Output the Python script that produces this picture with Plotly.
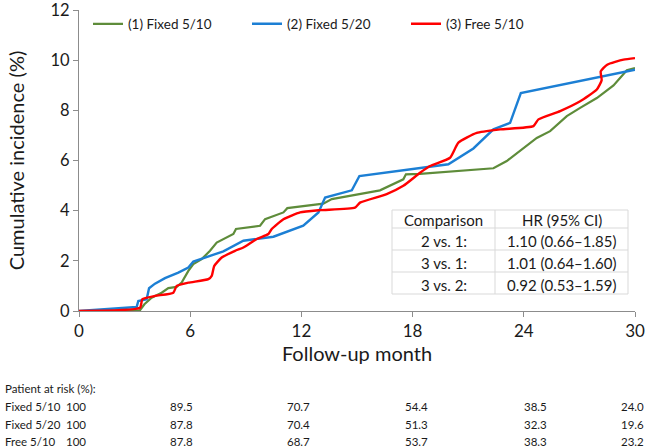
import plotly.graph_objects as go

# ---- data ----
fixed_510_month = [0, 3.29, 3.53, 3.92, 4.46, 4.82, 5.27, 5.54, 5.9, 6.17, 6.62, 7.07, 7.43, 7.88, 8.33, 8.47,
                   9.77, 10.04, 11.03, 11.24, 13.18, 13.64, 16.24, 17.5, 17.64, 18.4, 22.36, 23.08, 23.98,
                   24.7, 25.42, 26.32, 27.04, 27.94, 28.84, 29.56, 30.0]
fixed_510_inc = [0, 0.03, 0.27, 0.53, 0.73, 0.91, 0.96, 1.13, 1.6, 1.87, 2.07, 2.4, 2.73, 2.91, 3.07, 3.27,
                 3.4, 3.66, 3.93, 4.1, 4.28, 4.46, 4.81, 5.25, 5.45, 5.47, 5.69, 5.98, 6.51,
                 6.9, 7.17, 7.77, 8.1, 8.49, 8.99, 9.6, 9.69]

fixed_520_month = [0, 3.11, 3.2, 3.65, 3.78, 4.1, 4.64, 5.36, 5.9, 6.17, 6.8, 7.79, 8.87, 10.49, 12.1, 12.92,
                   13.28, 14.72, 15.13, 18.4, 19.93, 21.28, 22.36, 23.26, 23.84, 30.0]
fixed_520_inc = [0, 0.16, 0.4, 0.47, 0.91, 1.09, 1.31, 1.53, 1.73, 1.97, 2.13, 2.38, 2.8, 2.96, 3.4, 3.93,
                 4.52, 4.81, 5.38, 5.71, 5.85, 6.48, 7.24, 7.5, 8.69, 9.62]

free_510_month = [0, 3.29, 3.42, 4.1, 5.09, 5.27, 5.9, 6.98, 7.16, 7.3, 7.7, 8.42, 8.87, 9.59, 10.22, 10.4,
                  11.03, 11.93, 13.0, 14.89, 15.16, 16.6, 17.5, 18.4, 18.94, 20.02, 20.47, 21.46, 22.72,
                  24.52, 24.79, 25.96, 27.04, 27.94, 28.2, 28.15, 28.5, 29.38, 30.0]
free_510_inc = [0, 0.13, 0.47, 0.6, 0.73, 1.0, 1.13, 1.27, 1.4, 1.8, 2.13, 2.4, 2.53, 2.87, 3.07, 3.27,
                3.66, 3.93, 4.02, 4.12, 4.32, 4.66, 4.99, 5.51, 5.78, 6.11, 6.71, 7.1, 7.24,
                7.37, 7.64, 7.97, 8.36, 8.83, 9.2, 9.55, 9.82, 10.02, 10.08]

series_names = ["(1) Fixed 5/10", "(2) Fixed 5/20", "(3) Free 5/10"]

x_ticks = [0, 6, 12, 18, 24, 30]
y_ticks = [0, 2, 4, 6, 8, 10, 12]

hr_comparisons = ["2 vs. 1:", "3 vs. 1:", "3 vs. 2:"]
hr_values = ["1.10 (0.66\u20131.85)", "1.01 (0.64\u20131.60)", "0.92 (0.53\u20131.59)"]

risk_groups = ["Fixed 5/10", "Fixed 5/20", "Free 5/10"]
risk_fixed_510 = ["100", "89.5", "70.7", "54.4", "38.5", "24.0"]
risk_fixed_520 = ["100", "87.8", "70.4", "51.3", "32.3", "19.6"]
risk_free_510 = ["100", "87.8", "68.7", "53.7", "38.3", "23.2"]

# ---- style ----
FONT = "Lato, 'Liberation Sans', sans-serif"
GREEN = "#5E8C3A"
BLUE = "#1C7FD4"
RED = "#FF0000"
AXIS = "#8C8C8C"
TXT = "#1a1a1a"

W, H = 646, 448
ML, MR, MT, MB = 79, 11, 10, 137
PW, PH = W - ML - MR, H - MT - MB


def px(x):
    return (x - ML) / PW


def py(y):
    return (H - MB - y) / PH


fig = go.Figure()
fig.add_trace(go.Scatter(x=fixed_510_month, y=fixed_510_inc, mode="lines", name=series_names[0],
                         line=dict(color=GREEN, width=2.2)))
fig.add_trace(go.Scatter(x=fixed_520_month, y=fixed_520_inc, mode="lines", name=series_names[1],
                         line=dict(color=BLUE, width=2.4)))
fig.add_trace(go.Scatter(x=free_510_month, y=free_510_inc, mode="lines", name=series_names[2],
                         line=dict(color=RED, width=2.4, shape="spline", smoothing=0.5)))

shapes = []
annotations = []

# HR table
tl, tr, tt, tb, tc = 392, 628, 210, 294, 495
row_lines = [228, 250, 272]
shapes.append(dict(type="rect", xref="paper", yref="paper", x0=px(tl), x1=px(tr), y0=py(tb), y1=py(tt),
                   line=dict(color="#D9D9D9", width=1), fillcolor="white", layer="above"))
shapes.append(dict(type="line", xref="paper", yref="paper", x0=px(tc), x1=px(tc), y0=py(tb), y1=py(tt),
                   line=dict(color="#D9D9D9", width=1), layer="above"))
for r in row_lines:
    shapes.append(dict(type="line", xref="paper", yref="paper", x0=px(tl), x1=px(tr), y0=py(r), y1=py(r),
                       line=dict(color="#D9D9D9", width=1), layer="above"))
row_centers = [220, 241, 263, 285]
col_centers = [(tl + tc) / 2, (tc + tr) / 2]
cells = [["Comparison", "HR (95% CI)"]] + [[c, v] for c, v in zip(hr_comparisons, hr_values)]
for rc, row in zip(row_centers, cells):
    for cc, txt in zip(col_centers, row):
        annotations.append(dict(xref="paper", yref="paper", x=px(cc), y=py(rc), text=txt, showarrow=False,
                                xanchor="center", yanchor="middle", font=dict(size=15, color=TXT)))

# patients at risk
RS = 11.5
annotations.append(dict(xref="paper", yref="paper", x=px(3), y=py(388), text="Patient at risk (%):",
                        showarrow=False, xanchor="left", yanchor="middle", font=dict(size=RS, color=TXT)))
risk_rows = [risk_fixed_510, risk_fixed_520, risk_free_510]
risk_y = [406, 424, 441]
risk_x = [76, 181, 298, 416, 535, 632]
for g, vals, yy in zip(risk_groups, risk_rows, risk_y):
    annotations.append(dict(xref="paper", yref="paper", x=px(3), y=py(yy), text=g, showarrow=False,
                            xanchor="left", yanchor="middle", font=dict(size=RS, color=TXT)))
    for xx, v in zip(risk_x, vals):
        annotations.append(dict(xref="paper", yref="paper", x=px(xx), y=py(yy), text=v, showarrow=False,
                                xanchor="center", yanchor="middle", font=dict(size=RS, color=TXT)))

fig.update_layout(
    width=W, height=H,
    margin=dict(l=ML, r=MR, t=MT, b=MB, pad=0, autoexpand=False),
    paper_bgcolor="white", plot_bgcolor="white",
    font=dict(family=FONT, color=TXT),
    showlegend=True,
    legend=dict(orientation="h", x=px(88), y=py(24), xanchor="left", yanchor="middle",
                font=dict(size=13.5), entrywidth=114, entrywidthmode="pixels",
                bgcolor="rgba(0,0,0,0)", itemclick=False),
    shapes=shapes, annotations=annotations,
    xaxis=dict(range=[0, 30], tickvals=x_ticks, ticks="outside", ticklen=5, tickcolor=AXIS,
               showline=True, linecolor=AXIS, linewidth=1, showgrid=False, zeroline=False,
               ticklabeloverflow="allow", automargin=False,
               tickfont=dict(size=17), title=dict(text="Follow-up month", font=dict(size=20), standoff=6)),
    yaxis=dict(range=[0, 12.0001], tickvals=y_ticks, ticks="outside", ticklen=5, tickcolor=AXIS,
               showline=True, linecolor=AXIS, linewidth=1, showgrid=False, zeroline=False,
               ticklabeloverflow="allow", automargin=False,
               tickfont=dict(size=16.5), title=dict(text="Cumulative incidence (%)", font=dict(size=20), standoff=20)),
)

fig.write_html("out.html", config={"displayModeBar": False},
               post_script="document.body.style.margin='0';")
